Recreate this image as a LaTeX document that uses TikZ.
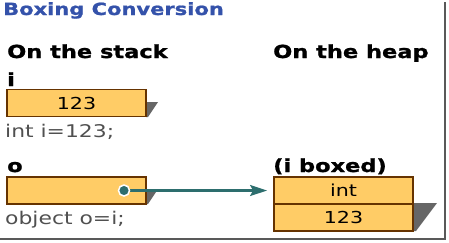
\documentclass[tikz,border=0pt]{standalone}
\usepackage{fontspec}
\setmainfont{DejaVu Sans}[FakeStretch=1.25, BoldFeatures={FakeBold=1.2}]
\usepackage{tikz}
\usetikzlibrary{arrows.meta,positioning}

\definecolor{boxfill}{RGB}{255,204,102}
\definecolor{boxline}{RGB}{102,51,0}
\definecolor{ptrcol}{RGB}{45,110,110}
\definecolor{titleblue}{RGB}{52,82,170}
\definecolor{codegray}{RGB}{80,80,80}

\begin{document}
\begin{tikzpicture}[x=1pt, y=-1pt, >=Stealth,
  ttl/.style={anchor=base west, inner sep=0pt, text=titleblue, font=\fontsize{16.8}{18}\selectfont\bfseries},
  hd/.style={anchor=base west, inner sep=0pt, font=\fontsize{18}{20}\selectfont\bfseries},
  code/.style={anchor=base west, inner sep=0pt, text=codegray, font=\fontsize{17.5}{19}\selectfont},
  cell/.style={draw=boxline, line width=1.8pt, fill=boxfill, minimum width=139pt, inner sep=0pt, font=\fontsize{16.5}{18}\selectfont},
  shd/.style={fill=black!60, draw=none}
]
\useasboundingbox (0,0) rectangle (449,242);
% frame lines
\draw[black!65, line width=1.8pt] (445,2) -- (445,239) -- (0,239);
% headings
\node[ttl] (title) at (3,15) {Boxing Conversion};
\node[hd] (stack) at (7,58) {On the stack};
\node[hd] (heap) at (273,58) {On the heap};
% value on the stack
\node[hd] (iname) at (7,86) {i};
\fill[shd] (146,102) -- (158,102) -- (148,117) -- (146,117) -- cycle;
\node[cell, minimum height=27pt] (ibox) at (76.5,103) {123};
\node[code] (idecl) at (5,137) {int i=123;};
% reference on the stack
\node[hd] (oname) at (7,172) {o};
\fill[shd] (146,189) -- (158,189) -- (148,204) -- (146,204) -- cycle;
\node[cell, minimum height=27pt] (obox) at (76.5,190.5) {};
\node[code] (odecl) at (5,224) {object o=i;};
% boxed object on the heap
\node[hd] (boxed) at (273,172) {(i boxed)};
\fill[shd] (413,203) -- (437,203) -- (416,231) -- (413,231) -- cycle;
\node[cell, minimum height=27pt] (hint) at (343.5,190.5) {int};
\node[cell, minimum height=27pt, below=-1.8pt of hint] (hval) {123};
% pointer
\coordinate (ptr) at (124,190.5);
\draw[->, ptrcol, line width=2.4pt, shorten >=6pt, >={Stealth[length=17pt, width=11pt, inset=3pt]}] (ptr) -- (hint.west);
\node[circle, fill=ptrcol, draw=white, line width=1.5pt, inner sep=0pt, minimum size=11pt] (dot) at (ptr) {};
\end{tikzpicture}
\end{document}
